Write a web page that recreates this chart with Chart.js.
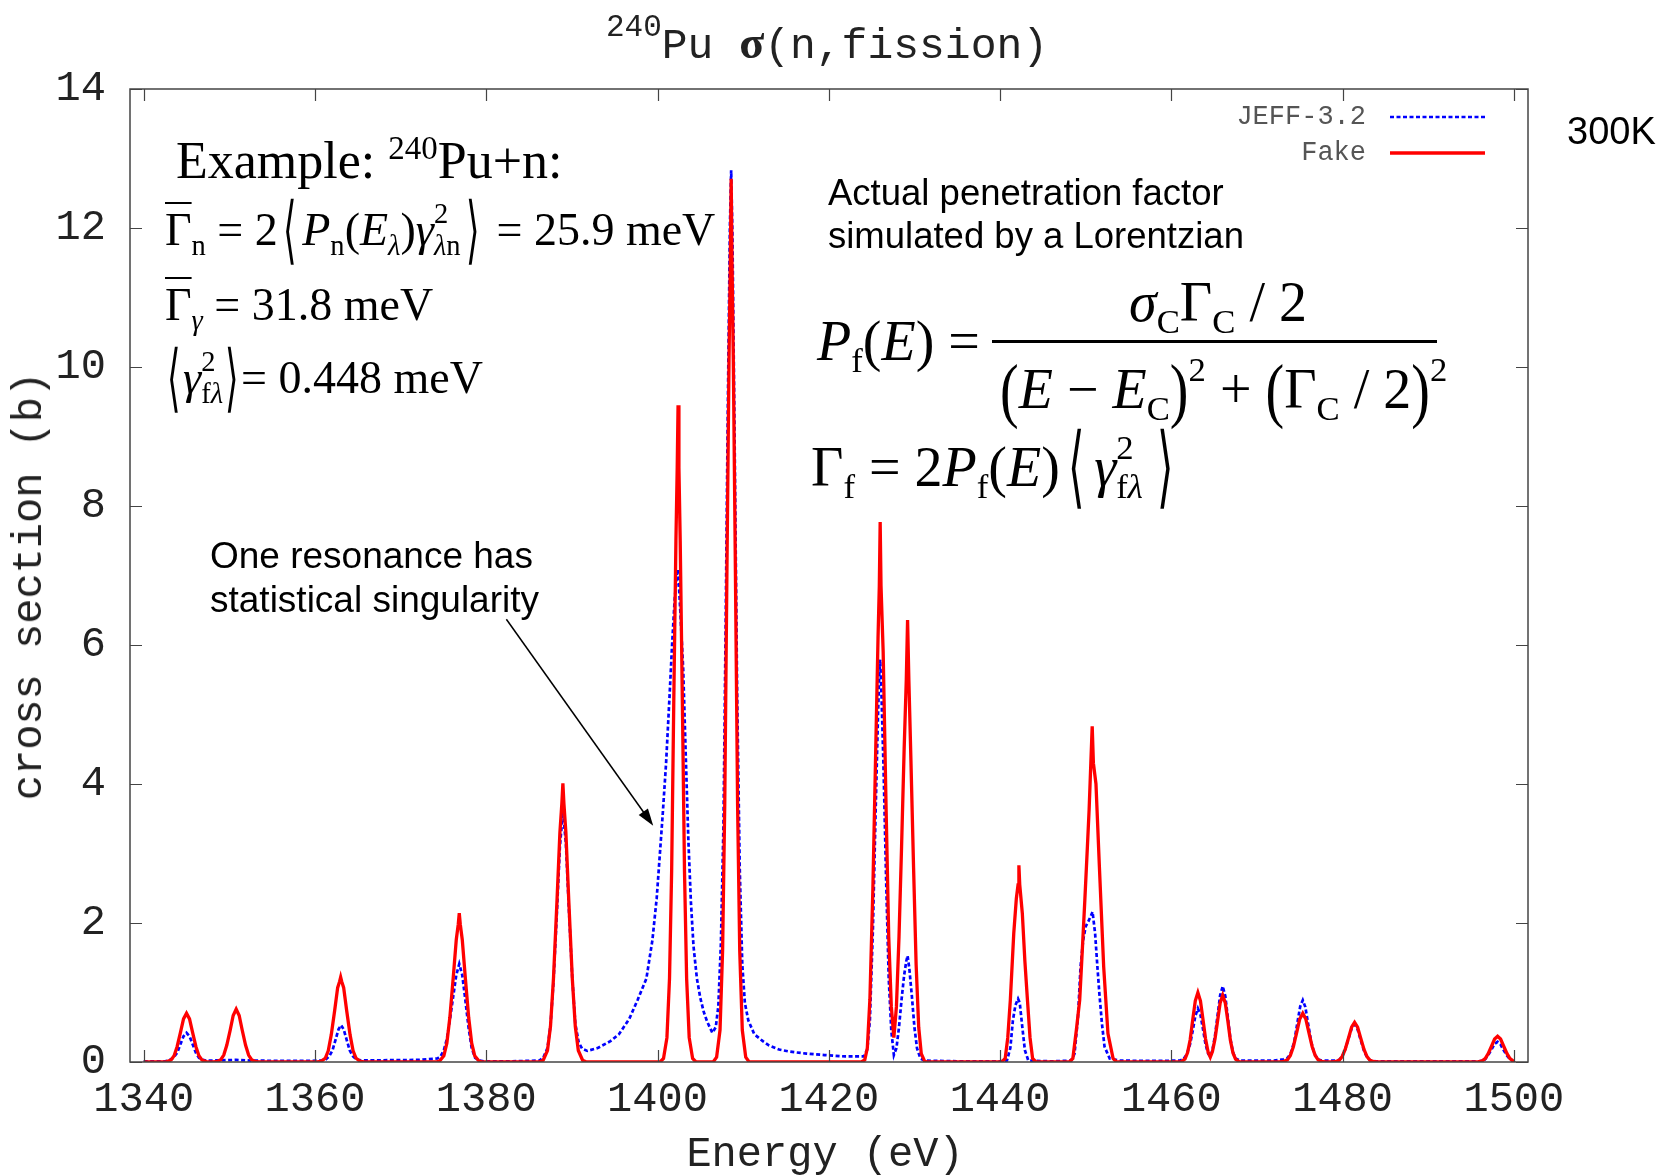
<!DOCTYPE html>
<html>
<head>
<meta charset="utf-8">
<script src="https://cdn.jsdelivr.net/npm/chart.js@4.4.1/dist/chart.umd.min.js"></script>
<style>
  html, body { margin: 0; padding: 0; background: #fff; }
  #wrap { position: relative; width: 1669px; height: 1176px; overflow: hidden; }
  #c { position: absolute; left: 0; top: 0; }
  .t { position: absolute; white-space: nowrap; line-height: 1; color: #000; }
  .mono { font-family: "Liberation Mono", "Courier New", monospace; color: #222; }
  .sans { font-family: "Liberation Sans", Arial, sans-serif; }
  .m { font-family: "Liberation Serif", "Times New Roman", serif; }
  .m i { font-style: italic; }
  .sb { font-size: .62em; position: relative; top: .35em; line-height: 0; }
  .sp { font-size: .62em; position: relative; top: -.78em; line-height: 0; }
  .ov { text-decoration: overline; text-decoration-thickness: 2px; }
  .ang { display: inline-block; font-family: "DejaVu Sans", sans-serif; font-weight: 200; transform: scale(.75, 1.6); transform-origin: 50% 62%; line-height: 0; margin: 0 .07em; }
  .bp { display: inline-block; transform: scale(1, 1.3); transform-origin: 50% 62%; line-height: 0; }
</style>
</head>
<body>
<div id="wrap">
  <canvas id="c" width="1669" height="1176"></canvas>

  <div class="t mono" style="left:827px; top:20px; font-size:43px; transform:translateX(-50%);"><span style="font-size:31px; position:relative; top:-22px;">240</span>Pu <b class="m" style="font-size:46px;">σ</b>(n,fission)</div>
  <div class="t mono" style="left:825px; top:1134px; font-size:42px; transform:translateX(-50%);">Energy (eV)</div>
  <div class="t mono" style="left:30px; top:586px; font-size:42px; transform:translate(-50%,-50%) rotate(-90deg);">cross section (b)</div>

  <div class="t sans" style="left:1567px; top:112px; font-size:38px;">300K</div>

  <div class="t m" style="left:176px; top:135px; font-size:52px;">Example: <span style="font-size:33px; position:relative; top:-19px;">240</span>Pu+n:</div>
  <div class="t m" style="left:165px; top:207px; font-size:46px;"><span class="ov">Γ</span><span class="sb">n</span> = 2<span class="ang">⟨</span><i>P</i><span class="sb">n</span>(<i>E</i><span class="sb"><i>λ</i></span>)<i>γ</i><span class="sp">2</span><span class="sb" style="margin-left:-.5em;"><i>λ</i>n</span><span class="ang">⟩</span> = 25.9 meV</div>
  <div class="t m" style="left:165px; top:282px; font-size:46px;"><span class="ov">Γ</span><span class="sb"><i>γ</i></span> = 31.8 meV</div>
  <div class="t m" style="left:165px; top:355px; font-size:46px;"><span class="ang" style="margin:0;">⟨</span><i>γ</i><span class="sp">2</span><span class="sb" style="margin-left:-.5em;">f<i>λ</i></span><span class="ang" style="margin:0;">⟩</span>= 0.448 meV</div>

  <div class="t sans" style="left:828px; top:175px; font-size:36.5px;">Actual penetration factor</div>
  <div class="t sans" style="left:828px; top:218px; font-size:36.5px;">simulated by a Lorentzian</div>

  <div class="t m" style="left:817px; top:313px; font-size:56px;"><i>P</i><span class="sb">f</span>(<i>E</i>) =</div>
  <div class="t m" style="left:1218px; top:274px; font-size:56px; transform:translateX(-50%);"><i>σ</i><span class="sb">C</span>Γ<span class="sb">C</span> / 2</div>
  <div style="position:absolute; left:992px; top:340px; width:445px; height:2.5px; background:#000;"></div>
  <div class="t m" style="left:1000px; top:361px; font-size:56px;"><span class="bp">(</span><i>E</i> − <i>E</i><span class="sb">C</span><span class="bp">)</span><span class="sp">2</span> + <span class="bp">(</span>Γ<span class="sb">C</span> / 2<span class="bp">)</span><span class="sp">2</span></div>
  <div class="t m" style="left:811px; top:439px; font-size:56px;">Γ<span class="sb">f</span> = 2<i>P</i><span class="sb">f</span>(<i>E</i>)<span class="ang" style="margin:0 .12em 0 .1em;">⟨</span><i>γ</i><span class="sp">2</span><span class="sb" style="margin-left:-.5em;">f<i>λ</i></span><span class="ang" style="margin-left:.2em;">⟩</span></div>

  <div class="t sans" style="left:210px; top:537px; font-size:37px;">One resonance has</div>
  <div class="t sans" style="left:210px; top:581px; font-size:37px;">statistical singularity</div>
</div>

<script>
// axis ticks
const energyTicks = [1340, 1360, 1380, 1400, 1420, 1440, 1460, 1480, 1500];
const xsTicks = [0, 2, 4, 6, 8, 10, 12, 14];

// "Fake" fission cross section (b) vs energy (eV)
const fakeEnergy = [
  1340, 1342.25, 1342.7, 1343.2, 1343.55, 1343.9, 1344.3, 1344.65, 1345.0, 1345.35, 1345.7, 1346.1, 1346.45, 1346.8, 1347.3, 1347.75,
  1348.05, 1348.5, 1349.0, 1349.35, 1349.7, 1350.1, 1350.45, 1350.8, 1351.15, 1351.5, 1351.9, 1352.25, 1352.6, 1353.1, 1353.55,
  1360.25, 1360.7, 1361.2, 1361.55, 1361.9, 1362.3, 1362.65, 1362.88, 1363.0, 1363.12, 1363.35, 1363.7, 1364.1, 1364.45, 1364.8, 1365.3, 1365.75,
  1374.1, 1374.55, 1375.05, 1375.4, 1375.75, 1376.15, 1376.5, 1376.73, 1376.85, 1376.97, 1377.2, 1377.55, 1377.95, 1378.3, 1378.65, 1379.15, 1379.6,
  1386.2, 1386.65, 1387.15, 1387.5, 1387.85, 1388.25, 1388.6, 1388.83, 1388.95, 1389.07, 1389.3, 1389.65, 1390.05, 1390.4, 1390.75, 1391.25, 1391.7,
  1400.3, 1400.7, 1401.1, 1401.4, 1401.65, 1401.9, 1402.15, 1402.3, 1402.4, 1402.5, 1402.65, 1402.9, 1403.15, 1403.4, 1403.7, 1404.1, 1404.5,
  1406.5, 1406.9, 1407.3, 1407.6, 1407.85, 1408.1, 1408.35, 1408.5, 1408.6, 1408.7, 1408.85, 1409.1, 1409.35, 1409.6, 1409.9, 1410.3, 1410.7,
  1423.8, 1424.2, 1424.5, 1424.8, 1425.15, 1425.45, 1425.75, 1425.9, 1426.0, 1426.1, 1426.35, 1426.7, 1427.0, 1427.3, 1427.6,
  1427.9, 1428.2, 1428.5, 1428.8, 1429.05, 1429.2, 1429.35, 1429.6, 1429.9, 1430.2, 1430.5, 1430.8, 1431.2, 1431.6,
  1440.2, 1440.6, 1440.9, 1441.2, 1441.6, 1441.9, 1442.1, 1442.2, 1442.3, 1442.6, 1442.9, 1443.2, 1443.5, 1443.8, 1444.2,
  1448.1, 1448.5, 1448.9, 1449.3, 1449.6, 1449.9, 1450.2, 1450.4, 1450.6, 1450.76, 1450.9, 1451.2, 1451.6, 1452.1, 1452.6, 1453.2, 1453.6,
  1460.8, 1461.2, 1461.6, 1461.9, 1462.2, 1462.5, 1462.8, 1463.1, 1463.4, 1463.7, 1464.0, 1464.3, 1464.55,
  1464.8, 1465.1, 1465.4, 1465.7, 1466.0, 1466.3, 1466.6, 1466.9, 1467.2, 1467.5, 1467.9, 1468.3,
  1472.6, 1473.05, 1473.55, 1473.9, 1474.25, 1474.65, 1475.0, 1475.35, 1475.7, 1476.05, 1476.45, 1476.8, 1477.15, 1477.65, 1478.1,
  1478.65, 1479.1, 1479.6, 1479.95, 1480.3, 1480.7, 1481.05, 1481.4, 1481.75, 1482.1, 1482.5, 1482.85, 1483.2, 1483.7, 1484.15,
  1495.35, 1495.8, 1496.3, 1496.65, 1497.0, 1497.4, 1497.75, 1498.1, 1498.45, 1498.8, 1499.2, 1499.55, 1499.9, 1500
];
const fakeXS = [
  0, 0, 0.005, 0.03, 0.09, 0.22, 0.43, 0.62, 0.70, 0.62, 0.43, 0.22, 0.09, 0.03, 0.005, 0,
  0, 0.005, 0.033, 0.10, 0.24, 0.46, 0.67, 0.76, 0.67, 0.46, 0.24, 0.10, 0.033, 0.005, 0,
  0, 0.008, 0.054, 0.16, 0.39, 0.74, 1.07, 1.16, 1.22, 1.16, 1.07, 0.74, 0.39, 0.16, 0.054, 0.008, 0,
  0, 0.014, 0.09, 0.27, 0.64, 1.22, 1.76, 1.98, 2.14, 1.98, 1.76, 1.22, 0.64, 0.27, 0.09, 0.014, 0,
  0, 0.026, 0.165, 0.51, 1.2, 2.29, 3.3, 3.72, 4.01, 3.72, 3.3, 2.29, 1.2, 0.51, 0.165, 0.026, 0,
  0, 0.05, 0.35, 1.2, 2.75, 5.2, 7.5, 8.55, 9.45, 8.55, 7.5, 5.2, 2.75, 1.2, 0.35, 0.05, 0,
  0, 0.07, 0.46, 1.6, 3.7, 7.0, 10.1, 11.5, 12.71, 11.5, 10.1, 7.0, 3.7, 1.6, 0.46, 0.07, 0,
  0, 0.03, 0.2, 0.9, 2.5, 4.3, 6.1, 6.85, 7.77, 6.85, 5.9, 3.6, 1.8, 0.8, 0.35,
  0.8, 1.8, 3.1, 4.5, 5.5, 6.36, 5.5, 4.3, 2.8, 1.4, 0.5, 0.12, 0.01, 0,
  0, 0.05, 0.35, 0.89, 1.85, 2.35, 2.55, 2.83, 2.55, 2.14, 1.45, 0.89, 0.35, 0.05, 0,
  0, 0.05, 0.45, 0.89, 1.6, 2.33, 3.1, 3.63, 4.3, 4.83, 4.3, 4.0, 2.81, 1.37, 0.41, 0.05, 0,
  0, 0.007, 0.044, 0.135, 0.32, 0.61, 0.88, 1.0, 0.88, 0.61, 0.33, 0.14, 0.07,
  0.15, 0.33, 0.59, 0.85, 0.96, 0.85, 0.59, 0.31, 0.13, 0.042, 0.007, 0,
  0, 0.005, 0.031, 0.095, 0.22, 0.43, 0.62, 0.70, 0.62, 0.43, 0.22, 0.095, 0.031, 0.005, 0,
  0, 0.004, 0.025, 0.077, 0.18, 0.35, 0.5, 0.57, 0.5, 0.35, 0.18, 0.077, 0.025, 0.004, 0,
  0, 0.003, 0.016, 0.05, 0.12, 0.23, 0.33, 0.37, 0.33, 0.23, 0.12, 0.05, 0.016, 0.01
];

// JEFF-3.2 fission cross section (b) vs energy (eV)
const jeffEnergy = [
  1340, 1342.5, 1342.9, 1343.45, 1343.9, 1344.3, 1344.65, 1345.0, 1345.35, 1345.7, 1346.1, 1346.45, 1346.9, 1347.4,
  1350.8, 1352.5, 1358, 1360.8,
  1361.2, 1361.65, 1362.05, 1362.4, 1362.75, 1363.05, 1363.35, 1363.7, 1364.05, 1364.45, 1364.9, 1365.4,
  1368, 1372, 1374.3,
  1374.65, 1375.05, 1375.4, 1375.75, 1376.15, 1376.5, 1376.85, 1377.2, 1377.55, 1377.95, 1378.3, 1378.7, 1379.2, 1379.75,
  1383, 1386.2,
  1386.65, 1387.15, 1387.5, 1387.85, 1388.25, 1388.6, 1388.95, 1389.3, 1389.65, 1390.05, 1390.4, 1390.8, 1391.2, 1391.8,
  1393, 1394.5, 1395.5, 1396.7, 1397.7, 1398.7, 1399.4, 1399.9, 1400.6, 1401.0, 1401.4, 1401.7, 1402.0, 1402.25, 1402.4,
  1402.7, 1403.0, 1403.3, 1403.6, 1403.9, 1404.2, 1404.6, 1405.0, 1405.4, 1405.8, 1406.4,
  1406.8, 1407.1, 1407.4, 1407.7, 1407.95, 1408.2, 1408.45, 1408.6, 1408.75, 1409.0, 1409.3, 1409.6, 1409.9, 1410.2, 1410.6,
  1411.3, 1412.3, 1413.0, 1414.2, 1415.4, 1417.4, 1419.5, 1421.9, 1424.1,
  1424.5, 1424.8, 1425.15, 1425.45, 1425.75, 1425.9, 1426.0, 1426.15, 1426.4, 1426.7, 1427.0, 1427.3, 1427.6,
  1427.9, 1428.2, 1428.5, 1428.8, 1429.05, 1429.2, 1429.4, 1429.7, 1430.0, 1430.3, 1430.7, 1431.2,
  1435, 1440.0, 1440.8, 1441.2, 1441.5, 1441.8, 1442.1, 1442.3, 1442.6, 1442.9, 1443.3,
  1446, 1448.3, 1448.7, 1449.1, 1449.4, 1449.7, 1450.0, 1450.3, 1450.6, 1450.8, 1451.1, 1451.35, 1451.6, 1451.9, 1452.2, 1452.8,
  1454, 1458, 1461.0, 1461.4, 1461.8, 1462.2, 1462.5, 1462.8, 1463.1, 1463.4, 1463.7, 1464.0, 1464.3, 1464.55,
  1464.8, 1465.1, 1465.4, 1465.7, 1466.0, 1466.3, 1466.6, 1466.9, 1467.2, 1467.5, 1468,
  1472, 1472.6, 1473.1, 1473.6, 1473.95, 1474.35, 1474.7, 1475.05, 1475.35, 1475.65, 1476.0, 1476.35, 1476.7, 1477.1, 1477.55,
  1479.2, 1479.6, 1479.95, 1480.3, 1480.7, 1481.05, 1481.4, 1481.75, 1482.1, 1482.5, 1482.85, 1483.2, 1483.9,
  1490, 1495.9, 1496.3, 1496.65, 1497.0, 1497.4, 1497.75, 1498.1, 1498.45, 1498.8, 1499.2, 1499.55, 1499.9, 1500
];
const jeffXS = [
  0.01, 0.01, 0.02, 0.06, 0.13, 0.26, 0.37, 0.42, 0.37, 0.26, 0.13, 0.06, 0.03, 0.02,
  0.03, 0.02, 0.015, 0.02,
  0.03, 0.08, 0.17, 0.32, 0.47, 0.53, 0.47, 0.32, 0.17, 0.08, 0.03, 0.025,
  0.025, 0.03, 0.05,
  0.08, 0.17, 0.33, 0.6, 0.95, 1.25, 1.41, 1.25, 0.9, 0.48, 0.2, 0.06, 0.02, 0.01,
  0.01, 0.02,
  0.06, 0.2, 0.52, 1.15, 2.15, 3.1, 3.6, 3.15, 2.2, 1.2, 0.55, 0.28, 0.19, 0.16,
  0.2, 0.3, 0.4, 0.62, 0.9, 1.2, 1.75, 2.35, 3.55, 4.3, 5.25, 6.0, 6.65, 7.0, 7.09,
  6.4, 5.65, 4.4, 3.2, 2.3, 1.67, 1.2, 0.92, 0.72, 0.58, 0.42,
  0.5, 0.8, 1.7, 3.4, 6.2, 9.3, 12.0, 12.83, 11.9, 9.0, 5.3, 2.8, 1.4, 0.85, 0.6,
  0.4, 0.3, 0.24, 0.18, 0.15, 0.12, 0.1, 0.08, 0.08,
  0.18, 0.6, 1.9, 3.5, 5.0, 5.6, 5.79, 5.3, 4.2, 2.6, 1.2, 0.45, 0.1,
  0.2, 0.5, 0.9, 1.25, 1.45, 1.53, 1.35, 0.95, 0.5, 0.2, 0.05, 0.02,
  0.01, 0.01, 0.02, 0.2, 0.6, 0.82, 0.91, 0.85, 0.5, 0.17, 0.02,
  0.01, 0.02, 0.12, 0.65, 1.37, 1.75, 1.95, 2.02, 2.1, 2.16, 1.85, 1.4, 0.98, 0.55, 0.22, 0.05,
  0.02, 0.015, 0.02, 0.04, 0.11, 0.26, 0.45, 0.66, 0.77, 0.68, 0.47, 0.25, 0.12, 0.08,
  0.17, 0.38, 0.67, 0.96, 1.09, 0.95, 0.64, 0.33, 0.14, 0.05, 0.02,
  0.02, 0.03, 0.04, 0.06, 0.13, 0.29, 0.55, 0.8, 0.89, 0.79, 0.53, 0.28, 0.12, 0.04, 0.02,
  0.02, 0.03, 0.08, 0.18, 0.34, 0.48, 0.54, 0.47, 0.32, 0.16, 0.07, 0.025, 0.01,
  0.01, 0.01, 0.015, 0.04, 0.1, 0.18, 0.26, 0.29, 0.25, 0.17, 0.09, 0.04, 0.01, 0.005
];

// arrow "One resonance has statistical singularity" in data units
const arrowFrom = { x: 1382.35, y: 6.37 };
const arrowTo = { x: 1399.5, y: 3.4 };

function toPoints(xs, ys) {
  return xs.map(function (x, i) { return { x: x, y: ys[i] }; });
}

const framePlugin = {
  id: 'frame',
  afterDatasetsDraw: function (chart) {
    const ctx = chart.ctx;
    const area = chart.chartArea;
    const xScale = chart.scales.x;
    const yScale = chart.scales.y;
    ctx.save();

    // border and inward ticks, mirrored on all sides
    ctx.strokeStyle = '#444';
    ctx.lineWidth = 1.5;
    ctx.strokeRect(area.left, area.top, area.right - area.left, area.bottom - area.top);
    ctx.beginPath();
    energyTicks.forEach(function (v) {
      const px = Math.round(xScale.getPixelForValue(v)) + 0.5;
      ctx.moveTo(px, area.bottom); ctx.lineTo(px, area.bottom - 12);
      ctx.moveTo(px, area.top); ctx.lineTo(px, area.top + 12);
    });
    xsTicks.forEach(function (v) {
      const py = Math.round(yScale.getPixelForValue(v)) + 0.5;
      ctx.moveTo(area.left, py); ctx.lineTo(area.left + 12, py);
      ctx.moveTo(area.right, py); ctx.lineTo(area.right - 12, py);
    });
    ctx.lineWidth = 1.2;
    ctx.stroke();

    // legend, gnuplot style: text right-aligned, sample line to its right
    const order = ['JEFF-3.2', 'Fake'];
    order.forEach(function (label, i) {
      const ds = chart.data.datasets.find(function (d) { return d.label === label; });
      const y = area.top + 28 + i * 36;
      ctx.font = '27px "Liberation Mono", monospace';
      ctx.fillStyle = '#555';
      ctx.textAlign = 'right';
      ctx.textBaseline = 'middle';
      ctx.fillText(label, area.right - 162, y);
      ctx.beginPath();
      ctx.setLineDash(ds.borderDash || []);
      ctx.strokeStyle = ds.borderColor;
      ctx.lineWidth = ds.borderWidth;
      ctx.moveTo(area.right - 138, y);
      ctx.lineTo(area.right - 43, y);
      ctx.stroke();
      ctx.setLineDash([]);
    });

    // annotation arrow
    const x0 = xScale.getPixelForValue(arrowFrom.x), y0 = yScale.getPixelForValue(arrowFrom.y);
    const x1 = xScale.getPixelForValue(arrowTo.x), y1 = yScale.getPixelForValue(arrowTo.y);
    const ang = Math.atan2(y1 - y0, x1 - x0);
    const head = 18;
    ctx.strokeStyle = '#000';
    ctx.fillStyle = '#000';
    ctx.lineWidth = 1.5;
    ctx.beginPath();
    ctx.moveTo(x0, y0);
    ctx.lineTo(x1 - Math.cos(ang) * head * 0.8, y1 - Math.sin(ang) * head * 0.8);
    ctx.stroke();
    ctx.beginPath();
    ctx.moveTo(x1, y1);
    ctx.lineTo(x1 - head * Math.cos(ang - 0.32), y1 - head * Math.sin(ang - 0.32));
    ctx.lineTo(x1 - head * Math.cos(ang + 0.32), y1 - head * Math.sin(ang + 0.32));
    ctx.closePath();
    ctx.fill();

    ctx.restore();
  }
};

const tickFont = { family: '"Liberation Mono", monospace', size: 42 };

new Chart(document.getElementById('c'), {
  type: 'line',
  data: {
    datasets: [
      {
        label: 'Fake',
        data: toPoints(fakeEnergy, fakeXS),
        borderColor: '#ff0000',
        borderWidth: 3.3,
        pointRadius: 0,
        tension: 0,
        fill: false
      },
      {
        label: 'JEFF-3.2',
        data: toPoints(jeffEnergy, jeffXS),
        borderColor: '#0000ff',
        borderWidth: 2.7,
        borderDash: [4, 2.5],
        pointRadius: 0,
        tension: 0,
        fill: false
      }
    ]
  },
  options: {
    responsive: false,
    animation: false,
    devicePixelRatio: 1,
    layout: { padding: { left: 0, top: 89, right: 141, bottom: 0 } },
    plugins: { legend: { display: false }, tooltip: { enabled: false }, title: { display: false } },
    scales: {
      x: {
        type: 'linear',
        min: 1338.4,
        max: 1501.65,
        afterBuildTicks: function (scale) { scale.ticks = energyTicks.map(function (v) { return { value: v }; }); },
        afterFit: function (scale) { scale.height = 114; },
        grid: { display: false, drawTicks: false },
        border: { display: false },
        ticks: { padding: 13, font: tickFont, color: '#222', maxRotation: 0, autoSkip: false, callback: function (v) { return String(v); } }
      },
      y: {
        min: 0,
        max: 14,
        afterBuildTicks: function (scale) { scale.ticks = xsTicks.map(function (v) { return { value: v }; }); },
        afterFit: function (scale) { scale.width = 130; },
        grid: { display: false, drawTicks: false },
        border: { display: false },
        ticks: { padding: 24, font: tickFont, color: '#222', autoSkip: false, callback: function (v) { return String(v); } }
      }
    }
  },
  plugins: [framePlugin]
});
</script>
</body>
</html>
